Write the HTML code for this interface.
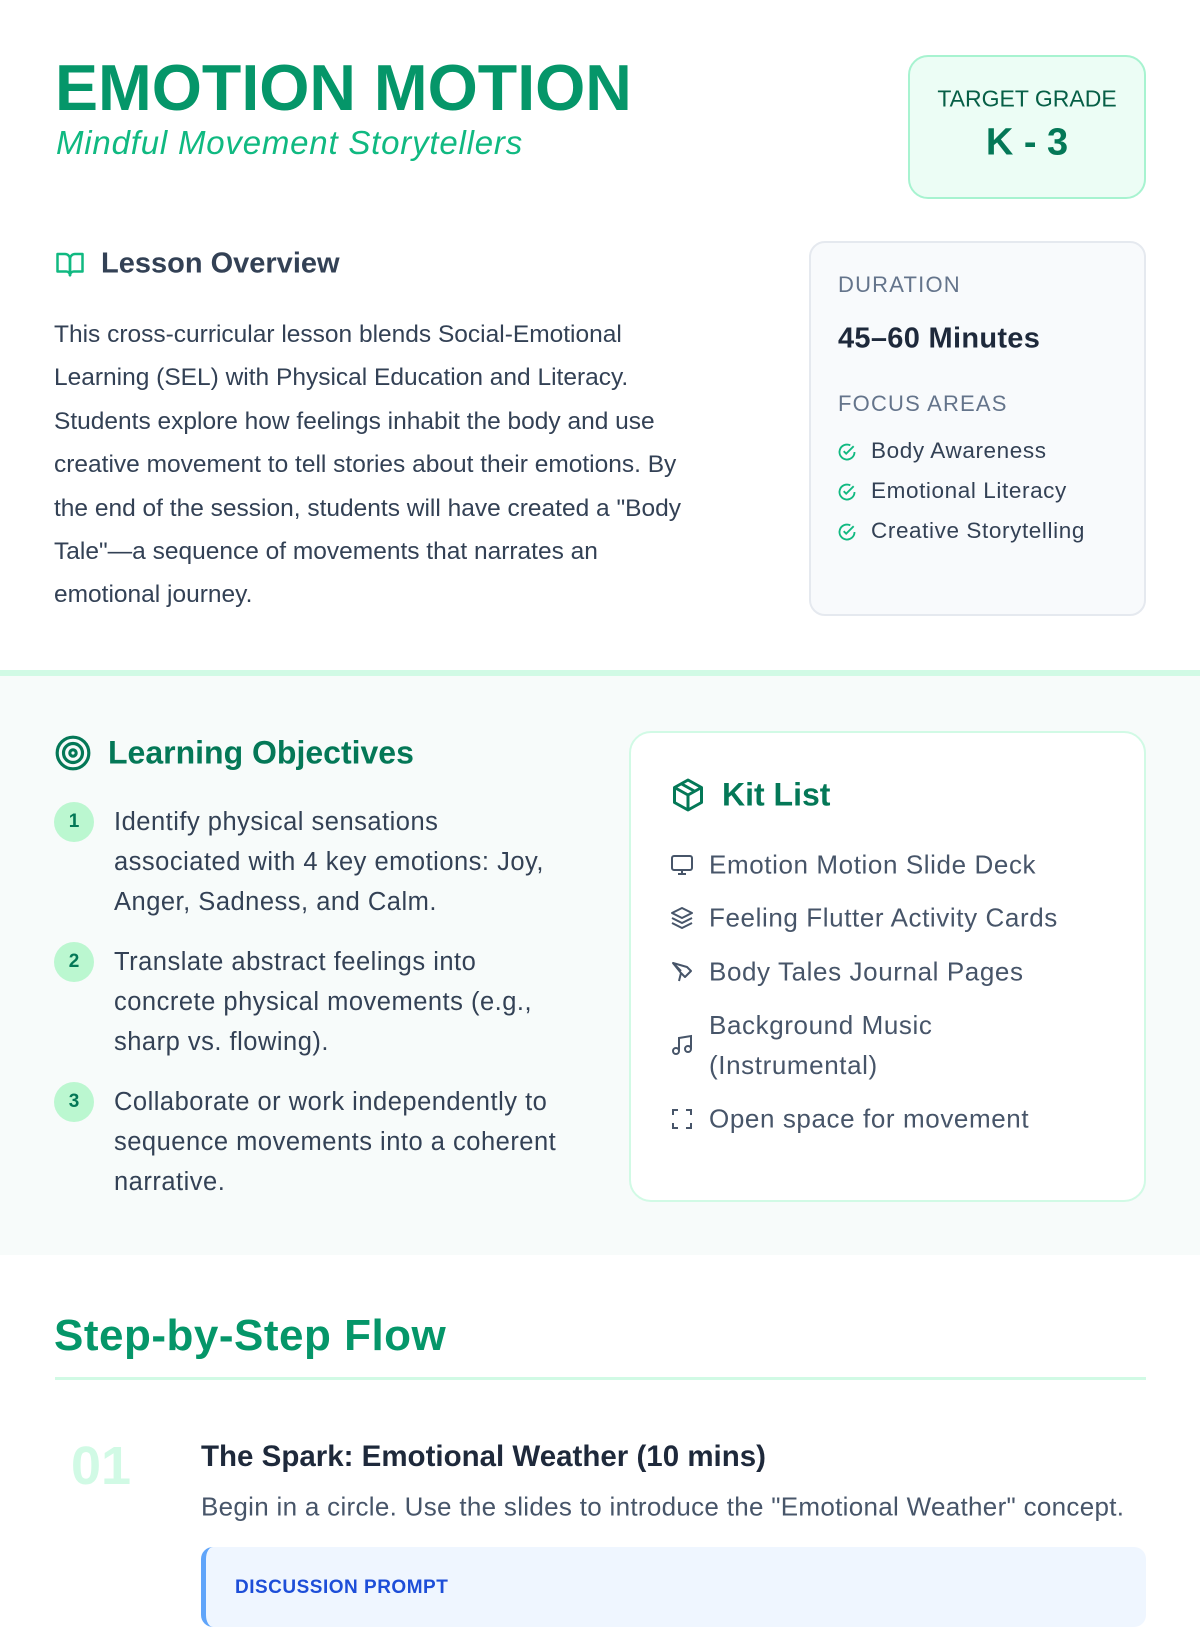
<!DOCTYPE html>
<html><head><meta charset="utf-8"><style>
*{margin:0;padding:0;box-sizing:border-box}
body{width:1200px;height:1600px;overflow:hidden;background:#fff;font-family:"Liberation Sans",sans-serif;position:relative}
.a{position:absolute;white-space:nowrap}
.mid{transform:translateY(-50%)}
</style></head><body>
<div class="a mid" style="left:55px;top:88px;font-size:64.5px;font-weight:bold;color:#059669;letter-spacing:0px">EMOTION MOTION</div>
<div class="a mid" style="left:56px;top:143px;font-size:33px;font-style:italic;color:#10b981;letter-spacing:0.8px">Mindful Movement Storytellers</div>

<div class="a" style="left:908px;top:55px;width:238px;height:144px;border:2px solid #a7f3d0;background:#ecfdf5;border-radius:20px"></div>
<div class="a mid" style="left:908px;width:238px;text-align:center;top:99px;font-size:23px;color:#065f46">TARGET GRADE</div>
<div class="a mid" style="left:908px;width:238px;text-align:center;top:143px;font-size:38px;font-weight:bold;color:#047857">K - 3</div>

<svg class="a" style="left:54px;top:249px" width="32" height="30" viewBox="0 0 24 24" fill="none" stroke="#10b981" stroke-width="2" stroke-linejoin="round"><path d="M2 4h6a4 4 0 0 1 4 4v13a3 3 0 0 0-3-3H2z"/><path d="M22 4h-6a4 4 0 0 0-4 4v13a3 3 0 0 1 3-3h7z"/></svg>
<div class="a mid" style="left:101px;top:264px;font-size:29px;font-weight:bold;color:#334155">Lesson Overview</div>
<div class="a" style="left:54px;top:313px;width:760px;white-space:normal;font-size:24.5px;line-height:43.4px;color:#334155">This cross-curricular lesson blends Social-Emotional<br>Learning (SEL) with Physical Education and Literacy.<br>Students explore how feelings inhabit the body and use<br>creative movement to tell stories about their emotions. By<br>the end of the session, students will have created a "Body<br>Tale"—a sequence of movements that narrates an<br>emotional journey.</div>

<div class="a" style="left:809px;top:241px;width:337px;height:375px;background:#f8fafc;border:2px solid #e5e9ef;border-radius:16px"></div>
<div class="a mid" style="left:838px;top:285px;font-size:22px;color:#64748b;letter-spacing:1.2px">DURATION</div>
<div class="a mid" style="left:838px;top:339px;font-size:29px;font-weight:bold;color:#1e293b;letter-spacing:0.3px">45–60 Minutes</div>
<div class="a mid" style="left:838px;top:404px;font-size:22px;color:#64748b;letter-spacing:1.2px">FOCUS AREAS</div>
<svg class="a" style="left:837px;top:442px" width="20" height="20" viewBox="0 0 24 24" fill="none" stroke="#10b981" stroke-width="2.2"><path d="M21 12a9 9 0 1 1-5-8"/><path d="M8 11l3 3 9-9"/></svg>
<div class="a mid" style="left:871px;top:451px;font-size:22.5px;color:#334155;letter-spacing:0.6px">Body Awareness</div>
<svg class="a" style="left:837px;top:482px" width="20" height="20" viewBox="0 0 24 24" fill="none" stroke="#10b981" stroke-width="2.2"><path d="M21 12a9 9 0 1 1-5-8"/><path d="M8 11l3 3 9-9"/></svg>
<div class="a mid" style="left:871px;top:491px;font-size:22.5px;color:#334155;letter-spacing:0.6px">Emotional Literacy</div>
<svg class="a" style="left:837px;top:522px" width="20" height="20" viewBox="0 0 24 24" fill="none" stroke="#10b981" stroke-width="2.2"><path d="M21 12a9 9 0 1 1-5-8"/><path d="M8 11l3 3 9-9"/></svg>
<div class="a mid" style="left:871px;top:531px;font-size:22.5px;color:#334155;letter-spacing:0.6px">Creative Storytelling</div>

<div class="a" style="left:0;top:670px;width:1200px;height:585px;background:#f7fbfa;border-top:6px solid #d1fae5"></div>

<svg class="a" style="left:54px;top:734px" width="38" height="38" viewBox="0 0 24 24" fill="none" stroke="#047857" stroke-width="2"><circle cx="12" cy="12" r="10"/><circle cx="12" cy="12" r="6"/><circle cx="12" cy="12" r="2"/></svg>
<div class="a mid" style="left:108px;top:753px;font-size:32px;font-weight:bold;color:#047857">Learning Objectives</div>

<div class="a" style="left:54px;top:802px;width:40px;height:40px;border-radius:50%;background:#bbf7d0;color:#047857;font-weight:bold;font-size:19px;text-align:center;line-height:40px">1</div>
<div class="a" style="left:114px;top:802px;font-size:25.5px;line-height:40px;color:#334155;letter-spacing:0.5px">Identify physical sensations<br>associated with 4 key emotions: Joy,<br>Anger, Sadness, and Calm.</div>
<div class="a" style="left:54px;top:942px;width:40px;height:40px;border-radius:50%;background:#bbf7d0;color:#047857;font-weight:bold;font-size:19px;text-align:center;line-height:40px">2</div>
<div class="a" style="left:114px;top:942px;font-size:25.5px;line-height:40px;color:#334155;letter-spacing:0.5px">Translate abstract feelings into<br>concrete physical movements (e.g.,<br>sharp vs. flowing).</div>
<div class="a" style="left:54px;top:1082px;width:40px;height:40px;border-radius:50%;background:#bbf7d0;color:#047857;font-weight:bold;font-size:19px;text-align:center;line-height:40px">3</div>
<div class="a" style="left:114px;top:1082px;font-size:25.5px;line-height:40px;color:#334155;letter-spacing:0.5px">Collaborate or work independently to<br>sequence movements into a coherent<br>narrative.</div>

<div class="a" style="left:629px;top:731px;width:517px;height:471px;background:#fff;border:2px solid #d1fae5;border-radius:22px"></div>
<svg class="a" style="left:670px;top:776px" width="36" height="38" viewBox="0 0 24 24" fill="none" stroke="#047857" stroke-width="2" stroke-linejoin="round"><path d="M12 2l9 5v10l-9 5-9-5V7z"/><path d="M3 7l9 5 9-5M12 12v10M7.5 4.5l9 5"/></svg>
<div class="a mid" style="left:722px;top:795px;font-size:32px;font-weight:bold;color:#047857">Kit List</div>

<svg class="a" style="left:669px;top:853px" width="26" height="24" viewBox="0 0 24 24" fill="none" stroke="#475569" stroke-width="2"><rect x="2" y="3" width="20" height="14" rx="2"/><path d="M8 21h8M12 17v4"/></svg>
<div class="a mid" style="left:709px;top:865px;font-size:26px;color:#475569;letter-spacing:0.6px">Emotion Motion Slide Deck</div>
<svg class="a" style="left:669px;top:906px" width="26" height="24" viewBox="0 0 24 24" fill="none" stroke="#475569" stroke-width="2" stroke-linejoin="round"><path d="M12 2l10 5-10 5L2 7z"/><path d="M2 12l10 5 10-5M2 17l10 5 10-5"/></svg>
<div class="a mid" style="left:709px;top:918px;font-size:26px;color:#475569;letter-spacing:0.6px">Feeling Flutter Activity Cards</div>
<svg class="a" style="left:669px;top:960px" width="26" height="24" viewBox="0 0 24 24" fill="none" stroke="#475569" stroke-width="2" stroke-linejoin="round"><path d="M3 3l14 4 4 4-6 6-4-4z"/><path d="M3 3l8 8M11 13l-2 8"/></svg>
<div class="a mid" style="left:709px;top:972px;font-size:26px;color:#475569;letter-spacing:0.6px">Body Tales Journal Pages</div>
<svg class="a" style="left:669px;top:1033px" width="26" height="24" viewBox="0 0 24 24" fill="none" stroke="#475569" stroke-width="2"><path d="M9 18V5l12-2v13"/><circle cx="6" cy="18" r="3"/><circle cx="18" cy="16" r="3"/></svg>
<div class="a" style="left:709px;top:1005px;font-size:26px;line-height:40px;color:#475569;letter-spacing:0.6px">Background Music<br>(Instrumental)</div>
<svg class="a" style="left:669px;top:1107px" width="26" height="24" viewBox="0 0 24 24" fill="none" stroke="#475569" stroke-width="2"><path d="M3 8V3h5M16 3h5v5M21 16v5h-5M8 21H3v-5"/></svg>
<div class="a mid" style="left:709px;top:1119px;font-size:26px;color:#475569;letter-spacing:0.6px">Open space for movement</div>

<div class="a mid" style="left:54px;top:1336px;font-size:44px;font-weight:bold;color:#059669;letter-spacing:0.5px">Step-by-Step Flow</div>
<div class="a" style="left:55px;top:1377px;width:1091px;height:3px;background:#d1fae5"></div>

<div class="a mid" style="left:71px;top:1466px;font-size:54px;font-weight:bold;color:#d1fae5">01</div>
<div class="a mid" style="left:201px;top:1457px;font-size:29.5px;font-weight:bold;color:#1e293b">The Spark: Emotional Weather (10 mins)</div>
<div class="a mid" style="left:201px;top:1507px;font-size:26px;color:#475569;letter-spacing:0.3px">Begin in a circle. Use the slides to introduce the "Emotional Weather" concept.</div>
<div class="a" style="left:201px;top:1547px;width:945px;height:80px;background:#eff6ff;border-left:5px solid #60a5fa;border-radius:12px"></div>
<div class="a mid" style="left:235px;top:1588px;font-size:19px;font-weight:bold;color:#1d4ed8;letter-spacing:0.5px">DISCUSSION PROMPT</div>
</body></html>
